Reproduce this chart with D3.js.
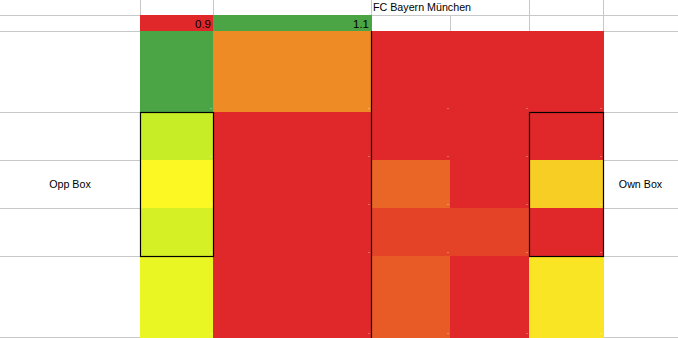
<!DOCTYPE html>
<html>
<head>
<meta charset="utf-8">
<script src="https://cdn.jsdelivr.net/npm/d3@7"></script>
<style>
body { margin: 0; background: #fff; }
</style>
</head>
<body>
<script>

// sheet data
var teamName = "FC Bayern München";
var ratioCols = ["B", "C"];
var ratioValues = [0.9, 1.1];
var sideLabels = ["Opp Box", "Own Box"];
var sideCols = ["A", "G"];
var labelRow = "4";

// zone shares, one array per sheet row (columns B..F), 0 = red, 0.5 = yellow, 1 = green
var zoneCols = ["B", "C", "D", "E", "F"];
var zoneRowNames = ["2", "3", "4", "5", "6"];
var zoneRow2 = [1.00, 0.26, 0.00, 0.00, 0.00];
var zoneRow3 = [0.61, 0.00, 0.00, 0.00, 0.00];
var zoneRow4 = [0.50, 0.00, 0.17, 0.00, 0.41];
var zoneRow5 = [0.58, 0.00, 0.08, 0.08, 0.00];
var zoneRow6 = [0.54, 0.00, 0.14, 0.00, 0.46];
var boxedCols = ["B", "F"];
var boxedRows = ["3", "5"];

// sheet layout
var width = 678, height = 338;
var colNames = ["A", "B", "C", "D", "E", "F", "G"];
var colWidths = [140, 73, 158, 79, 79, 74, 75];
var rowNames = ["0", "1", "2", "3", "4", "5", "6"];
var rowHeights = [15, 16, 81, 48, 48, 48, 81];

var xEdges = [0].concat(Array.from(d3.cumsum(colWidths)));
var yEdges = [0].concat(Array.from(d3.cumsum(rowHeights)));

var xLeft = d3.scaleOrdinal().domain(colNames).range(xEdges.slice(0, -1));
var xRight = d3.scaleOrdinal().domain(colNames).range(xEdges.slice(1));
var yTop = d3.scaleOrdinal().domain(rowNames).range(yEdges.slice(0, -1));
var yBottom = d3.scaleOrdinal().domain(rowNames).range(yEdges.slice(1));

var color = d3.scaleLinear()
    .domain([0, 0.5, 1])
    .range(["#E0282A", "#FBF823", "#4BA544"])
    .interpolate(d3.interpolateHsl)
    .clamp(true);
var ratioScale = d3.scaleLinear().domain([0.9, 1.1]).range([0, 1]);

var font = "'Liberation Sans', Arial, sans-serif";

var svg = d3.select("body").append("svg")
    .attr("width", width)
    .attr("height", height);

svg.append("rect")
    .attr("width", width)
    .attr("height", height)
    .attr("fill", "#fff");

//grid lines
var grid = svg.append("g").attr("stroke", "#C8C8C8").attr("stroke-width", 1);
grid.selectAll("line.h")
    .data(yEdges.slice(1))
    .enter().append("line")
    .attr("class", "h")
    .attr("x1", 0).attr("x2", width)
    .attr("y1", function(d) { return d + 0.5; })
    .attr("y2", function(d) { return d + 0.5; });
grid.selectAll("line.v")
    .data(xEdges.slice(1, -1))
    .enter().append("line")
    .attr("class", "v")
    .attr("y1", 0).attr("y2", height)
    .attr("x1", function(d) { return d + 0.5; })
    .attr("x2", function(d) { return d + 0.5; });

// zone cells
var zoneData = [];
[zoneRow2, zoneRow3, zoneRow4, zoneRow5, zoneRow6].forEach(function(vals, i) {
  vals.forEach(function(v, j) {
    zoneData.push({row: zoneRowNames[i], col: zoneCols[j], value: v});
  });
});
var lastRow = zoneRowNames[zoneRowNames.length - 1];

function cellBottom(r) {
  return r == lastRow ? height : yBottom(r) + 1;
}

svg.selectAll("rect.zone")
    .data(zoneData)
    .enter().append("rect")
    .attr("class", "zone")
    .attr("x", function(d) { return xLeft(d.col); })
    .attr("y", function(d) { return yTop(d.row); })
    .attr("width", function(d) { return xRight(d.col) - xLeft(d.col) + 1; })
    .attr("height", function(d) { return cellBottom(d.row) - yTop(d.row); })
    .attr("fill", function(d) { return color(d.value); });

// little pale marks in the cell corners
svg.selectAll("rect.mark")
    .data(zoneData)
    .enter().append("rect")
    .attr("class", "mark")
    .attr("x", function(d) { return xRight(d.col) - 3; })
    .attr("y", function(d) { return yBottom(d.row) - 4; })
    .attr("width", 2)
    .attr("height", 1)
    .attr("fill", "#fff")
    .attr("opacity", 0.3);

// ratio row
var ratioData = ratioValues.map(function(v, i) { return {col: ratioCols[i], value: v}; });
svg.selectAll("rect.ratio")
    .data(ratioData)
    .enter().append("rect")
    .attr("class", "ratio")
    .attr("x", function(d) { return xLeft(d.col); })
    .attr("y", yTop("1"))
    .attr("width", function(d) { return xRight(d.col) - xLeft(d.col) + 1; })
    .attr("height", yBottom("1") - yTop("1"))
    .attr("fill", function(d) { return color(ratioScale(d.value)); });

svg.selectAll("text.ratio")
    .data(ratioData)
    .enter().append("text")
    .attr("class", "ratio")
    .attr("x", function(d) { return xRight(d.col) - 2; })
    .attr("y", yBottom("1") - 3.5)
    .attr("text-anchor", "end")
    .attr("font-family", font)
    .attr("font-size", 11.5)
    .attr("fill", "#000")
    .text(function(d) { return d.value; });

//black borders
var borders = svg.append("g")
    .attr("fill", "none")
    .attr("stroke", "#000")
    .attr("stroke-width", 1.2);
borders.selectAll("rect")
    .data(boxedCols)
    .enter().append("rect")
    .attr("x", function(d) { return xLeft(d) + 0.5; })
    .attr("y", yTop(boxedRows[0]) + 0.5)
    .attr("width", function(d) { return xRight(d) - xLeft(d); })
    .attr("height", yBottom(boxedRows[1]) - yTop(boxedRows[0]));
borders.append("line")
    .attr("x1", xLeft("D") + 0.5).attr("x2", xLeft("D") + 0.5)
    .attr("y1", yTop("2")).attr("y2", height);

// team name header (covers the grid line it overflows)
var header = svg.append("g");
var headerBg = header.append("rect").attr("fill", "#fff");
var headerText = header.append("text")
    .attr("x", xLeft("D") + 2)
    .attr("y", yBottom("0") - 4)
    .attr("font-family", font)
    .attr("font-size", 10.7)
    .attr("fill", "#000")
    .text(teamName);
var hb = headerText.node().getBBox();
headerBg
    .attr("x", xLeft("D") + 1.5)
    .attr("y", 0)
    .attr("width", hb.x + hb.width - xLeft("D"))
    .attr("height", yBottom("0"));

// side labels
svg.selectAll("text.side")
    .data(sideLabels)
    .enter().append("text")
    .attr("class", "side")
    .attr("x", function(d, i) { return (xLeft(sideCols[i]) + xRight(sideCols[i])) / 2; })
    .attr("y", (yTop(labelRow) + yBottom(labelRow)) / 2 + 4)
    .attr("text-anchor", "middle")
    .attr("font-family", font)
    .attr("font-size", 10.7)
    .attr("fill", "#000")
    .text(function(d) { return d; });

</script>
</body>
</html>
